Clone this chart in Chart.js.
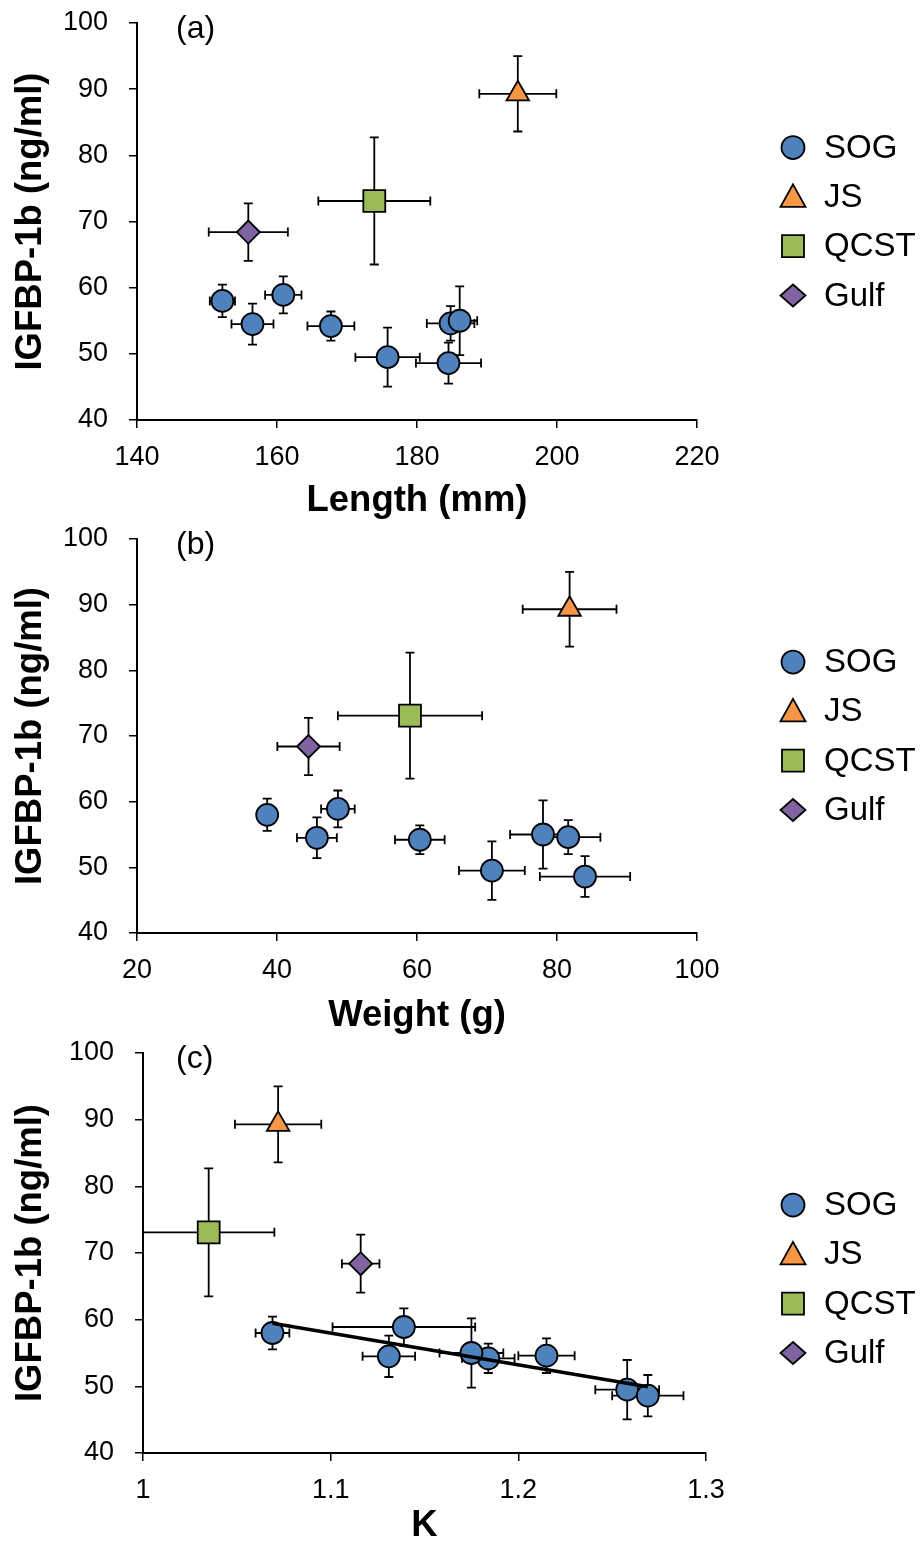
<!DOCTYPE html>
<html lang="en">
<head>
<meta charset="UTF-8">
<title>IGFBP-1b vs length, weight and K</title>
<script src="https://cdn.jsdelivr.net/npm/chart.js@4.4.1/dist/chart.umd.min.js"></script>
<style>
  html, body { margin: 0; padding: 0; background: #fff; }
  #wrap { position: relative; width: 923px; height: 1544px; }
  canvas { position: absolute; left: 0; }
</style>
</head>
<body>
<div id="wrap">
  <canvas id="chartA" width="923" height="520" style="top:0px"></canvas>
  <canvas id="chartB" width="923" height="520" style="top:516px"></canvas>
  <canvas id="chartC" width="923" height="514" style="top:1030px"></canvas>
</div>

<script>
// tick values / labels
const igfTicks = [40, 50, 60, 70, 80, 90, 100];
const lengthTicks = [140, 160, 180, 200, 220];
const weightTicks = [20, 40, 60, 80, 100];
const kTicks = [1, 1.1, 1.2, 1.3];
const kTickLabels = ['1', '1.1', '1.2', '1.3'];

// SOG (8 groups), IGFBP-1b mean +/- error
const sogIgf = [58.0, 54.5, 58.9, 54.2, 49.5, 54.6, 55.0, 48.6];
const sogIgfErr = [2.45, 3.1, 2.8, 2.2, 4.45, 2.6, 5.2, 3.1];
const sogLength = [152.2, 156.5, 160.9, 167.7, 175.8, 184.8, 186.1, 184.5];
const sogLengthErr = [1.8, 3.0, 2.6, 3.35, 4.6, 3.4, 2.5, 4.65];
const sogWeight = [38.6, 45.7, 48.7, 60.4, 70.7, 81.6, 78.0, 84.0];
const sogWeightErr = [0.5, 2.85, 2.4, 3.55, 4.7, 4.6, 4.7, 6.45];
const sogK = [1.069, 1.131, 1.139, 1.184, 1.258, 1.215, 1.175, 1.269];
const sogKErr = [0.009, 0.014, 0.038, 0.014, 0.017, 0.015, 0.017, 0.019];

const jsIgf = [89.3], jsIgfErr = [5.7];
const jsLength = [194.4], jsLengthErr = [5.5];
const jsWeight = [81.8], jsWeightErr = [6.7];
const jsK = [1.072], jsKErr = [0.023];

const qcstIgf = [73.1], qcstIgfErr = [9.6];
const qcstLength = [173.9], qcstLengthErr = [8.0];
const qcstWeight = [59.0], qcstWeightErr = [10.3];
const qcstK = [1.035], qcstKErr = [0.035];

const gulfIgf = [68.4], gulfIgfErr = [4.35];
const gulfLength = [155.9], gulfLengthErr = [5.65];
const gulfWeight = [44.5], gulfWeightErr = [4.45];
const gulfK = [1.116], gulfKErr = [0.010];

// SOG regression line in panel (c)
const trendK = [1.069, 1.269];
const trendIgf = [59.45, 49.95];

const groupNames = ['SOG', 'JS', 'QCST', 'Gulf'];
const groupColors = ['#4f81bd', '#f79646', '#9bbb59', '#8064a2'];
const groupShapes = ['circle', 'triangle', 'rect', 'rectRot'];
const groupRadius = [11, 13, 15.5, 11.5];

Chart.defaults.font.family = "'Liberation Sans', Arial, sans-serif";
Chart.defaults.color = '#000';

function buildSets(xs) {
  const ys = [[sogIgf, sogIgfErr], [jsIgf, jsIgfErr], [qcstIgf, qcstIgfErr], [gulfIgf, gulfIgfErr]];
  return groupNames.map((name, g) => ({
    label: name,
    data: ys[g][0].map((y, i) => ({ x: xs[g][0][i], y: y })),
    errX: xs[g][1],
    errY: ys[g][1],
    pointStyle: groupShapes[g],
    pointRadius: groupRadius[g],
    backgroundColor: groupColors[g],
    borderColor: '#000',
    pointBorderWidth: 1.8,
    order: 1
  }));
}

const errorBarPlugin = {
  id: 'errorBars',
  beforeDatasetsDraw(chart) {
    const ctx = chart.ctx, xs = chart.scales.x, ys = chart.scales.y;
    const cap = 4.5;
    ctx.save();
    ctx.strokeStyle = '#000';
    ctx.lineWidth = 1.8;
    chart.data.datasets.forEach(ds => {
      if (!ds.errX) return;
      ds.data.forEach((p, i) => {
        const px = xs.getPixelForValue(p.x), py = ys.getPixelForValue(p.y);
        const x0 = xs.getPixelForValue(p.x - ds.errX[i]), x1 = xs.getPixelForValue(p.x + ds.errX[i]);
        const y0 = ys.getPixelForValue(p.y - ds.errY[i]), y1 = ys.getPixelForValue(p.y + ds.errY[i]);
        ctx.beginPath();
        ctx.moveTo(x0, py); ctx.lineTo(x1, py);
        ctx.moveTo(x0, py - cap); ctx.lineTo(x0, py + cap);
        ctx.moveTo(x1, py - cap); ctx.lineTo(x1, py + cap);
        ctx.moveTo(px, y0); ctx.lineTo(px, y1);
        ctx.moveTo(px - cap, y0); ctx.lineTo(px + cap, y0);
        ctx.moveTo(px - cap, y1); ctx.lineTo(px + cap, y1);
        ctx.stroke();
      });
    });
    ctx.restore();
  }
};

function drawMarker(ctx, shape, x, y) {
  ctx.beginPath();
  if (shape === 'circle') {
    ctx.arc(x, y, 11.5, 0, Math.PI * 2);
  } else if (shape === 'triangle') {
    ctx.moveTo(x, y - 12.5); ctx.lineTo(x + 12.5, y + 10); ctx.lineTo(x - 12.5, y + 10);
  } else if (shape === 'rect') {
    ctx.rect(x - 11, y - 11, 22, 22);
  } else {
    ctx.moveTo(x, y - 11); ctx.lineTo(x + 12.5, y); ctx.lineTo(x, y + 11); ctx.lineTo(x - 12.5, y);
  }
  ctx.closePath();
  ctx.fill();
  ctx.stroke();
}

// legend on the right side + panel letter
const sideLegendPlugin = {
  id: 'sideLegend',
  afterDraw(chart, args, opts) {
    const ctx = chart.ctx, a = chart.chartArea;
    const items = chart.data.datasets.filter(d => d.label);
    const gap = 49.3;
    const y0 = (a.top + a.bottom) / 2 + (opts.offset || 0) - gap * (items.length - 1) / 2;
    ctx.save();
    ctx.lineWidth = 1.8;
    ctx.strokeStyle = '#000';
    ctx.font = "33px 'Liberation Sans', Arial, sans-serif";
    ctx.textBaseline = 'middle';
    items.forEach((d, i) => {
      const y = y0 + gap * i;
      ctx.fillStyle = d.backgroundColor;
      drawMarker(ctx, d.pointStyle, 793, y);
      ctx.fillStyle = '#000';
      ctx.fillText(d.label, 824, y + 1);
    });
    ctx.font = "32px 'Liberation Sans', Arial, sans-serif";
    ctx.fillText(opts.text, 176, a.top + 6);
    ctx.restore();
  }
};

function makeChart(id, cfg) {
  return new Chart(document.getElementById(id), {
    type: 'scatter',
    data: { datasets: cfg.datasets },
    options: {
      responsive: false,
      animation: false,
      devicePixelRatio: 1,
      layout: { padding: { top: cfg.area.top, right: 923 - cfg.area.right, bottom: 0, left: 0 } },
      plugins: {
        legend: { display: false },
        tooltip: { enabled: false },
        sideLegend: { text: cfg.letter, offset: cfg.legendOffset }
      },
      scales: {
        x: {
          type: 'linear',
          min: cfg.xTicks[0],
          max: cfg.xTicks[cfg.xTicks.length - 1],
          afterBuildTicks: s => { s.ticks = cfg.xTicks.map(v => ({ value: v })); },
          afterFit: s => { s.height = cfg.height - cfg.area.bottom; },
          ticks: {
            callback: (v, i) => cfg.xLabels[i],
            font: { size: 27 },
            padding: 13,
            maxRotation: 0,
            autoSkip: false
          },
          grid: { drawOnChartArea: false, tickLength: 8, color: '#000', lineWidth: 1.5 },
          border: { color: '#000', width: 2 },
          title: {
            display: true,
            text: cfg.xTitle,
            font: { size: 36.5, weight: 'bold', lineHeight: 1 },
            padding: { top: 0, bottom: cfg.titlePad }
          }
        },
        y: {
          type: 'linear',
          min: 40,
          max: 100,
          afterBuildTicks: s => { s.ticks = igfTicks.map(v => ({ value: v })); },
          afterFit: s => {
            s.width = cfg.area.left;
            s.paddingTop = 0;
            s.paddingBottom = 0;
          },
          ticks: {
            callback: (v, i) => String(igfTicks[i]),
            font: { size: 27 },
            padding: 21,
            autoSkip: false
          },
          grid: { drawOnChartArea: false, tickLength: 8, color: '#000', lineWidth: 1.5 },
          border: { color: '#000', width: 2 },
          title: {
            display: true,
            text: 'IGFBP-1b (ng/ml)',
            font: { size: 36.5, weight: 'bold', lineHeight: 1 },
            padding: { top: 13, bottom: 0 }
          }
        }
      }
    },
    plugins: [errorBarPlugin, sideLegendPlugin]
  });
}

makeChart('chartA', {
  datasets: buildSets([[sogLength, sogLengthErr], [jsLength, jsLengthErr], [qcstLength, qcstLengthErr], [gulfLength, gulfLengthErr]]),
  xTicks: lengthTicks,
  xLabels: lengthTicks.map(String),
  xTitle: 'Length (mm)',
  letter: '(a)',
  height: 520,
  titlePad: 0.5,
  legendOffset: 0,
  area: { top: 23, bottom: 420, left: 137, right: 697 }
});

makeChart('chartB', {
  datasets: buildSets([[sogWeight, sogWeightErr], [jsWeight, jsWeightErr], [qcstWeight, qcstWeightErr], [gulfWeight, gulfWeightErr]]),
  xTicks: weightTicks,
  xLabels: weightTicks.map(String),
  xTitle: 'Weight (g)',
  letter: '(b)',
  height: 520,
  titlePad: 1.5,
  legendOffset: 0,
  area: { top: 23, bottom: 417, left: 137, right: 697 }
});

const kSets = buildSets([[sogK, sogKErr], [jsK, jsKErr], [qcstK, qcstKErr], [gulfK, gulfKErr]]);
kSets.push({
  type: 'line',
  label: '',
  data: trendK.map((k, i) => ({ x: k, y: trendIgf[i] })),
  borderColor: '#000',
  borderWidth: 3.5,
  pointRadius: 0,
  fill: false,
  order: 0
});

makeChart('chartC', {
  datasets: kSets,
  xTicks: kTicks,
  xLabels: kTickLabels,
  xTitle: 'K',
  letter: '(c)',
  height: 514,
  titlePad: 0,
  legendOffset: 26,
  area: { top: 23, bottom: 423, left: 143, right: 706 }
});
</script>
</body>
</html>
